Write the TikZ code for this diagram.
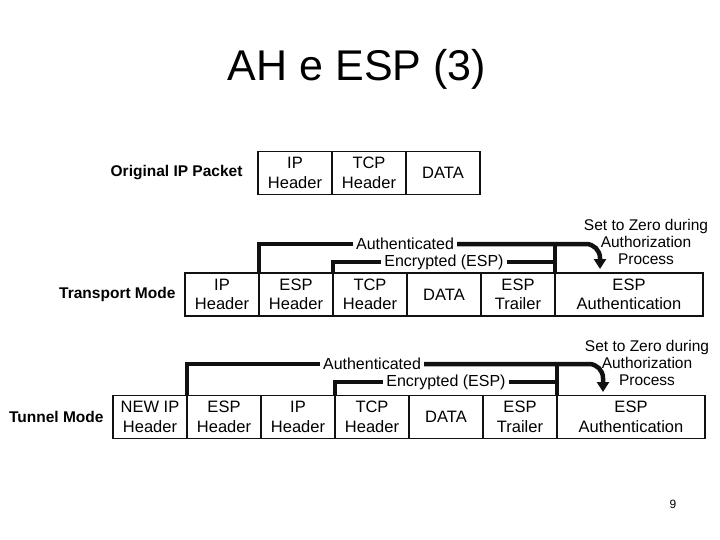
\documentclass[tikz,border=0pt]{standalone}
\usepackage{fontspec}
\setmainfont{Liberation Sans}
\usepackage{tikz}
\usetikzlibrary{positioning,calc,arrows.meta}
\definecolor{Ink}{HTML}{111111}
\definecolor{Paper}{HTML}{FFFFFF}

\tikzset{
	cell/.style={
		draw=Ink,
		line width=1.3pt,
		minimum width=74pt,
		minimum height=43pt,
		inner sep=0pt,
		outer sep=0pt,
		align=center,
		font=\fontsize{16.5}{19.5}\selectfont
	},
	widecell/.style={cell, minimum width=148pt},
	rowlabel/.style={font=\fontsize{15.5}{18}\selectfont\bfseries},
	barlabel/.style={font=\fontsize{16}{18}\selectfont, inner sep=3pt},
	bar/.style={draw=Ink, line width=4.5pt},
	zeronote/.style={align=center, font=\fontsize{15.5}{17}\selectfont}
}

\begin{document}
\begin{tikzpicture}[x=1pt,y=-1pt,node distance=0pt]
	\useasboundingbox[fill=Paper] (0,0) rectangle (720,540);
	
	\node[font=\fontsize{43}{50}\selectfont, anchor=base] (title) at (357,81) {AH e ESP (3)};
	
	% original packet
	\node[cell] (ipO) at (295,173) {IP\\Header};
	\node[cell, right=of ipO] (tcpO) {TCP\\Header};
	\node[cell, right=of tcpO] (dataO) {DATA};
	\node[rowlabel, left=12pt of ipO] (origL) {Original IP Packet};
	
	% transport mode
	\node[cell] (ipT) at (222,294.5) {IP\\Header};
	\node[cell, right=of ipT] (esphT) {ESP\\Header};
	\node[cell, right=of esphT] (tcpT) {TCP\\Header};
	\node[cell, right=of tcpT] (dataT) {DATA};
	\node[cell, right=of dataT] (trailT) {ESP\\Trailer};
	\node[widecell, right=of trailT] (authT) {ESP\\Authentication};
	\node[rowlabel, left=6pt of ipT] (transL) {Transport Mode};
	
	\node[barlabel] (authTxtT) at (405,244) {Authenticated};
	\node[barlabel] (encTxtT) at (444,262) {Encrypted (ESP)};
	\coordinate (tipT) at (600,269);
	\draw[bar] (esphT.north west) |- (authTxtT.west);
	\draw[bar] (tcpT.north west) |- (encTxtT.west);
	\draw[bar] (encTxtT.east) -| (trailT.north east);
	\draw[bar] (trailT.north east) -- (trailT.north east |- authTxtT);
	\draw[bar, rounded corners=14pt, -{Triangle[width=12pt,length=10pt]}] (authTxtT.east) -| (tipT);
	\node[zeronote] (zeroT) at (646,242) {Set to Zero during\\Authorization\\Process};
	
	% tunnel mode
	\node[cell] (newipN) at (150,417) {NEW IP\\Header};
	\node[cell, right=of newipN] (esphN) {ESP\\Header};
	\node[cell, right=of esphN] (ipN) {IP\\Header};
	\node[cell, right=of ipN] (tcpN) {TCP\\Header};
	\node[cell, right=of tcpN] (dataN) {DATA};
	\node[cell, right=of dataN] (trailN) {ESP\\Trailer};
	\node[widecell, right=of trailN] (authN) {ESP\\Authentication};
	\node[rowlabel, left=6pt of newipN] (tunL) {Tunnel Mode};
	
	\node[barlabel] (authTxtN) at (372,364) {Authenticated};
	\node[barlabel] (encTxtN) at (446,382) {Encrypted (ESP)};
	\coordinate (tipN) at (603,392);
	\draw[bar] (esphN.north west) |- (authTxtN.west);
	\draw[bar] (tcpN.north west) |- (encTxtN.west);
	\draw[bar] (encTxtN.east) -| (trailN.north east);
	\draw[bar] (trailN.north east) -- (trailN.north east |- authTxtN);
	\draw[bar, rounded corners=14pt, -{Triangle[width=12pt,length=10pt]}] (authTxtN.east) -| (tipN);
	\node[zeronote] (zeroN) at (647,363) {Set to Zero during\\Authorization\\Process};
	
	\node[font=\fontsize{12}{14}\selectfont] (pagenum) at (673,504) {9};
\end{tikzpicture}
\end{document}
